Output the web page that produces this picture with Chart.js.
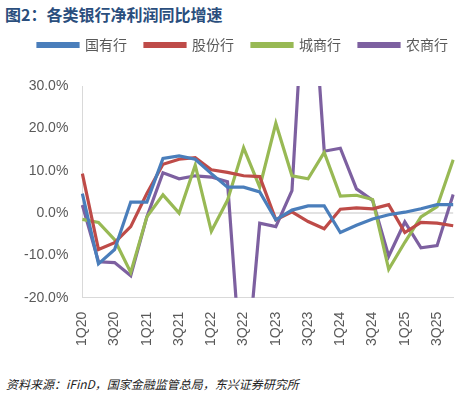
<!DOCTYPE html>
<html>
<head>
<meta charset="utf-8">
<script src="https://cdn.jsdelivr.net/npm/chart.js@4/dist/chart.umd.min.js"></script>
<style>
body { margin: 0; background: #fff; font-family: "Noto Sans CJK SC", sans-serif; }
#title { position: absolute; left: 5px; top: 2px; font-size: 16px; font-weight: bold; color: #2a4e7d; }
#box { position: absolute; left: 0; top: 20px; width: 476px; height: 350px; }
#src { position: absolute; left: 6px; top: 375px; font-size: 12px; font-style: italic; color: #222; }
</style>
</head>
<body>
<div id="title">图2：各类银行净利润同比增速</div>
<div id="box"><canvas id="c"></canvas></div>
<div id="src">资料来源：iFinD，国家金融监管总局，东兴证券研究所</div>
<script>
const quarters = ['1Q20','2Q20','3Q20','4Q20','1Q21','2Q21','3Q21','4Q21','1Q22','2Q22','3Q22','4Q22',
  '1Q23','2Q23','3Q23','4Q23','1Q24','2Q24','3Q24','4Q24','1Q25','2Q25','3Q25','4Q25'];
const stateBanks = [4.6,-12,-8.6,2.6,2.6,12.9,13.5,12.7,9.3,6.1,6.1,5,-1.6,0.7,1.7,1.7,-4.6,-2.9,-1.4,-0.4,0.2,1,2,2];
const jointBanks = [9.3,-8.6,-7,-3.2,4.6,11.5,12.7,13.1,10.2,9.6,8.8,8.6,-1.6,0.3,-2,-3.7,0.9,1.2,1,2,-4.6,-2.2,-2.4,-3];
const cityBanks = [-1.5,-2.2,-6.3,-14,-0.9,4.3,0,11.3,-4.3,3,15.4,6.1,21.2,8.8,8.1,14.3,4,4.2,3.2,-13.3,-6.9,-0.9,1.5,12.6];
const ruralBanks = [1.9,-11.5,-11.7,-14.8,-0.9,9.5,8.1,8.8,8.5,7.4,-45,-2.4,-3.2,5.3,70,14.6,15.3,5.7,3,-10.2,-2.1,-8.2,-7.7,4.4];
const yTicks = [-20,-10,0,10,20,30];

const mk = (label, data, color) => ({ label, data, borderColor: color, backgroundColor: color,
  borderWidth: 3.2, pointRadius: 0, tension: 0 });

new Chart(document.getElementById('c'), {
  type: 'line',
  data: {
    labels: quarters,
    datasets: [
      mk('国有行', stateBanks, '#4a7ebb'),
      mk('股份行', jointBanks, '#be4b48'),
      mk('城商行', cityBanks, '#98b954'),
      mk('农商行', ruralBanks, '#7d60a0')
    ]
  },
  options: {
    animation: false,
    responsive: true,
    maintainAspectRatio: false,
    layout: { padding: { left: 18, right: 8, bottom: 18 } },
    plugins: {
      legend: { labels: { boxWidth: 40, boxHeight: 3, color: '#595959', font: { size: 14, family: 'Noto Sans CJK SC' }, padding: 18 } },
      tooltip: { enabled: false }
    },
    scales: {
      x: {
        grid: { display: false },
        border: { color: '#d9d9d9' },
        ticks: { autoSkip: false, maxRotation: 90, minRotation: 90, padding: 6, color: '#595959', font: { size: 14 },
          callback: (v, i) => i % 2 === 0 ? quarters[i] : '' }
      },
      y: {
        min: -20, max: 30,
        afterBuildTicks: a => { a.ticks = yTicks.map(v => ({ value: v })); },
        afterFit: a => { a.paddingTop = 0; },
        grid: { display: false, drawTicks: true },
        border: { color: '#d9d9d9' },
        ticks: { color: '#595959', font: { size: 14 }, padding: 6, callback: v => v.toFixed(1) + '%' }
      }
    }
  },
  plugins: [{
    id: 'zeroLine',
    beforeDatasetsDraw(chart) {
      const { ctx, chartArea, scales } = chart;
      const y = scales.y.getPixelForValue(0);
      ctx.save();
      ctx.strokeStyle = '#d9d9d9';
      ctx.lineWidth = 1.5;
      ctx.beginPath();
      ctx.moveTo(chartArea.left, y);
      ctx.lineTo(chartArea.right, y);
      ctx.stroke();
      ctx.restore();
    }
  }, {
    id: 'legendGap',
    beforeInit(chart) {
      const fit = chart.legend.fit;
      chart.legend.fit = function () { fit.bind(this)(); this.height += 24; };
    }
  }]
});
</script>
</body>
</html>
